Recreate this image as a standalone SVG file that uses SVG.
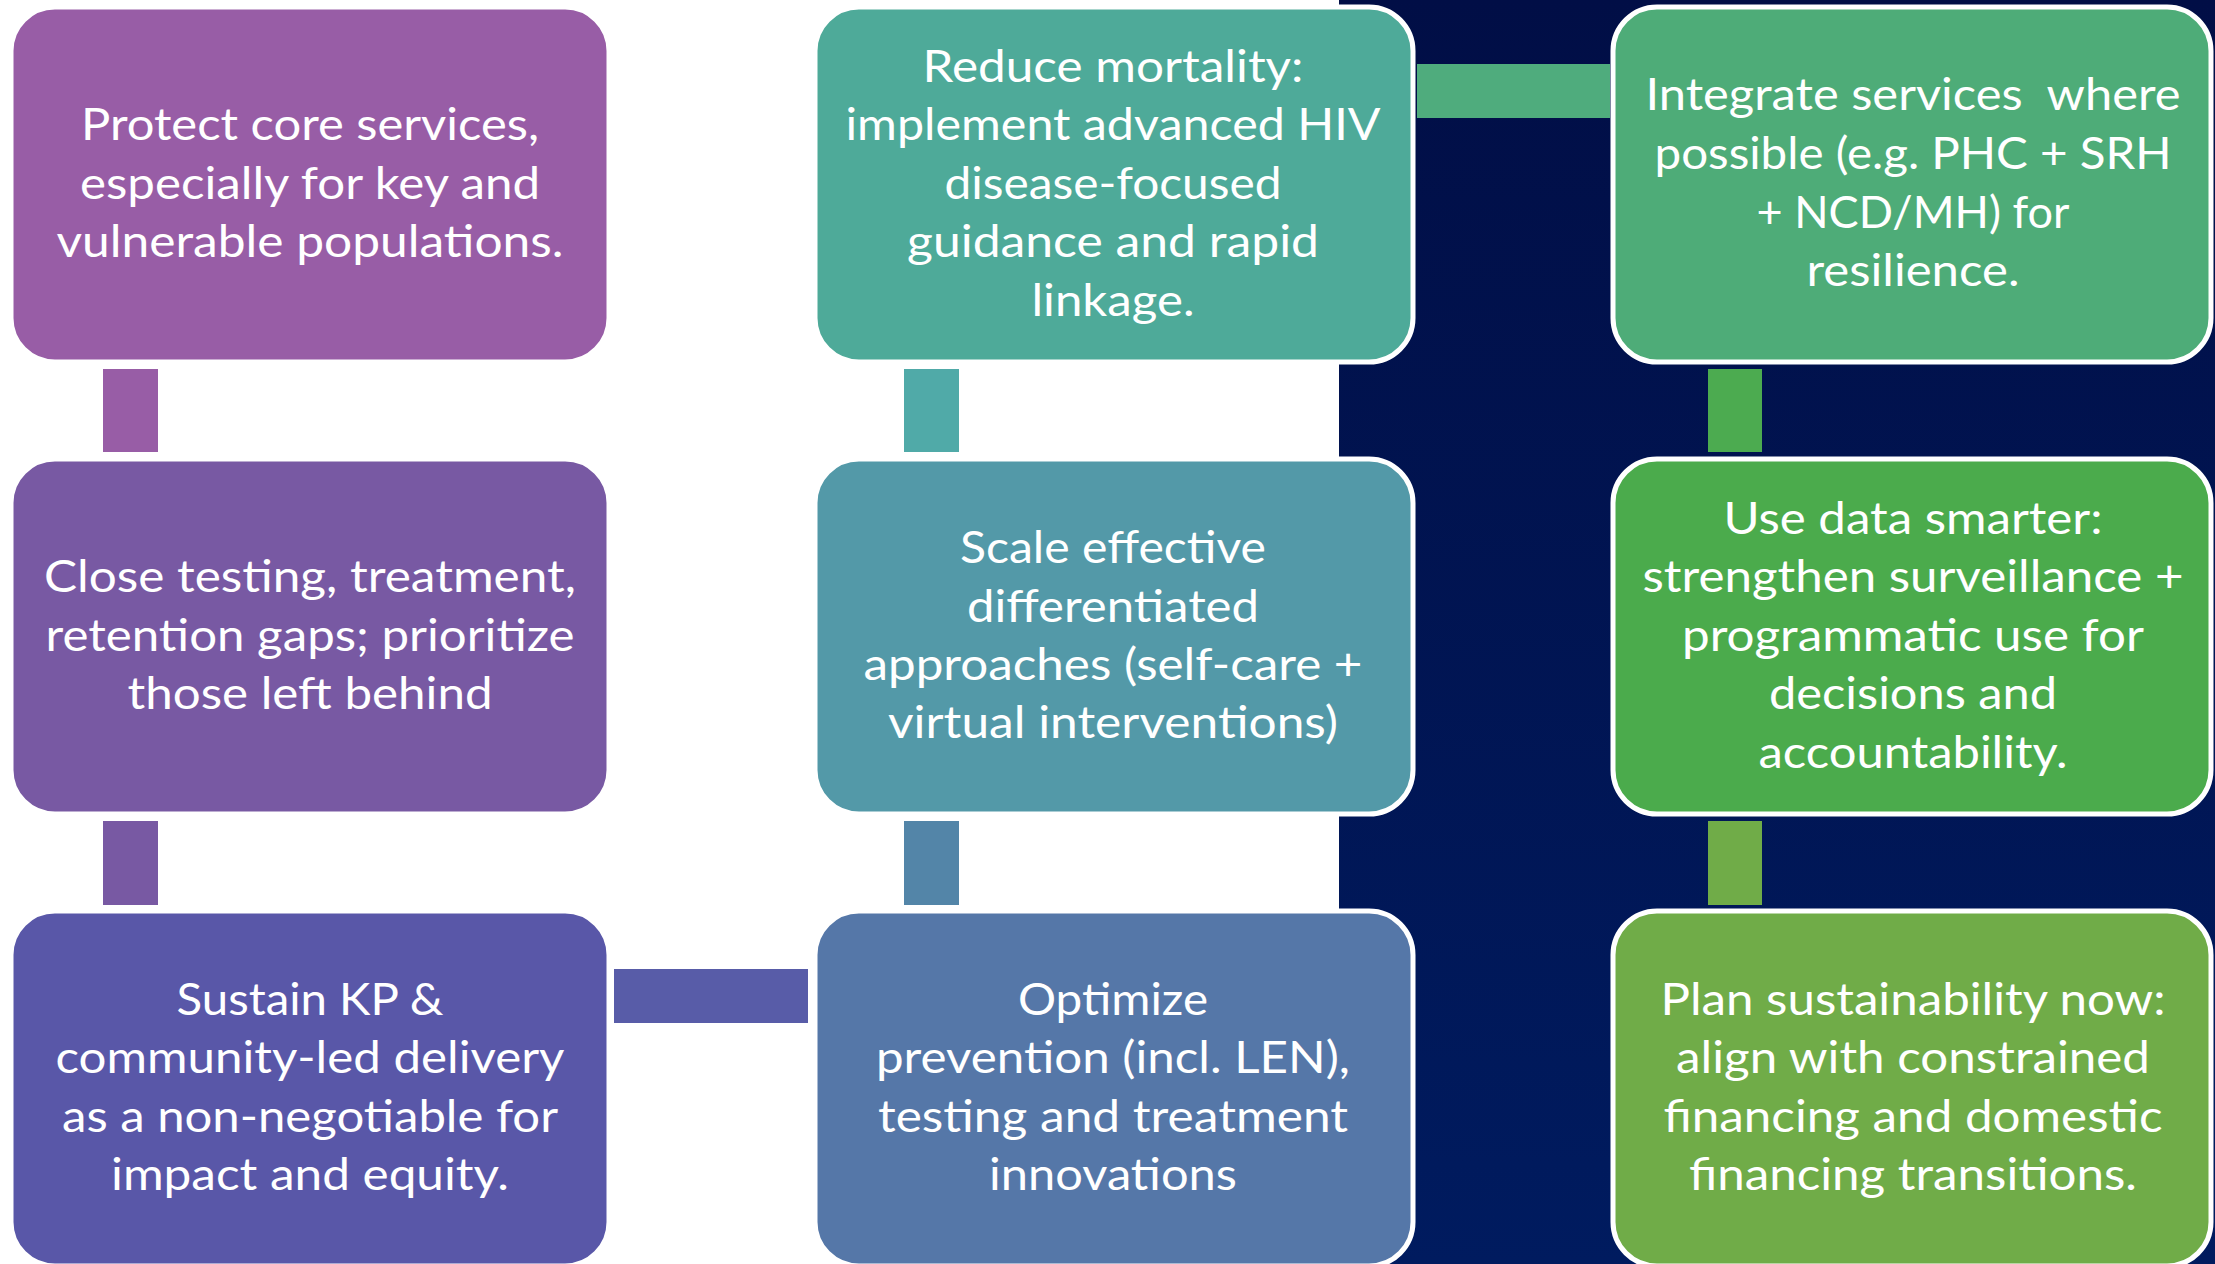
<svg xmlns="http://www.w3.org/2000/svg" width="2215" height="1264" viewBox="0 0 2215 1264">
<style>
.box{stroke:#ffffff;stroke-width:5}
.lbl{font-family:Lato,"Open Sans","Liberation Sans",sans-serif;font-size:44px;fill:#ffffff;text-anchor:middle}
</style>
<defs>
<linearGradient id="navy" x1="0" y1="0" x2="0" y2="1">
<stop offset="0" stop-color="#010E46"/>
<stop offset="1" stop-color="#001B5F"/>
</linearGradient>
</defs>
<rect x="0" y="0" width="2215" height="1264" fill="#ffffff"/>
<rect x="1339" y="0" width="876" height="1264" fill="url(#navy)"/>
<g id="connectors">
<rect x="103" y="369" width="55" height="83" fill="#985DA6"/>
<rect x="103" y="821" width="55" height="84" fill="#7859A3"/>
<rect x="614" y="969" width="194" height="54" fill="#585CA8"/>
<rect x="904" y="369" width="55" height="83" fill="#50AAA8"/>
<rect x="904" y="821" width="55" height="84" fill="#5385A8"/>
<rect x="1417" y="64" width="193" height="54" fill="#4FAC7D"/>
<rect x="1708" y="369" width="54" height="83" fill="#4CAB50"/>
<rect x="1708" y="821" width="54" height="84" fill="#70AC48"/>
</g>
<g id="n1"><rect class="box" x="11" y="7" width="598" height="355" rx="44" fill="#985DA6"/>
<text class="lbl"><tspan x="310" y="140" textLength="458" lengthAdjust="spacingAndGlyphs">Protect core services,</tspan><tspan x="310" y="199" textLength="460" lengthAdjust="spacingAndGlyphs">especially for key and</tspan><tspan x="310" y="257" textLength="507" lengthAdjust="spacingAndGlyphs">vulnerable populations.</tspan></text></g>
<g id="n2"><rect class="box" x="11" y="459" width="598" height="355" rx="44" fill="#7859A3"/>
<text class="lbl"><tspan x="310" y="592" textLength="532" lengthAdjust="spacingAndGlyphs">Close testing, treatment,</tspan><tspan x="310" y="651" textLength="529" lengthAdjust="spacingAndGlyphs">retention gaps; prioritize</tspan><tspan x="310" y="709" textLength="365" lengthAdjust="spacingAndGlyphs">those left behind</tspan></text></g>
<g id="n3"><rect class="box" x="11" y="911" width="598" height="355" rx="44" fill="#5957A8"/>
<text class="lbl"><tspan x="310" y="1015" textLength="267" lengthAdjust="spacingAndGlyphs">Sustain KP &amp;</tspan><tspan x="310" y="1073" textLength="509" lengthAdjust="spacingAndGlyphs">community-led delivery</tspan><tspan x="310" y="1132" textLength="496" lengthAdjust="spacingAndGlyphs">as a non-negotiable for</tspan><tspan x="310" y="1190" textLength="398" lengthAdjust="spacingAndGlyphs">impact and equity.</tspan></text></g>
<g id="n4"><rect class="box" x="815" y="7" width="598" height="355" rx="44" fill="#4EAA99"/>
<text class="lbl"><tspan x="1113" y="82" textLength="381" lengthAdjust="spacingAndGlyphs">Reduce mortality:</tspan><tspan x="1113" y="140" textLength="535" lengthAdjust="spacingAndGlyphs">implement advanced HIV</tspan><tspan x="1113" y="199" textLength="337" lengthAdjust="spacingAndGlyphs">disease-focused</tspan><tspan x="1113" y="257" textLength="412" lengthAdjust="spacingAndGlyphs">guidance and rapid</tspan><tspan x="1113" y="316" textLength="163" lengthAdjust="spacingAndGlyphs">linkage.</tspan></text></g>
<g id="n5"><rect class="box" x="815" y="459" width="598" height="355" rx="44" fill="#5399A8"/>
<text class="lbl"><tspan x="1113" y="563" textLength="306" lengthAdjust="spacingAndGlyphs">Scale effective</tspan><tspan x="1113" y="622" textLength="292" lengthAdjust="spacingAndGlyphs">differentiated</tspan><tspan x="1113" y="680" textLength="499" lengthAdjust="spacingAndGlyphs">approaches (self-care +</tspan><tspan x="1113" y="738" textLength="450" lengthAdjust="spacingAndGlyphs">virtual interventions)</tspan></text></g>
<g id="n6"><rect class="box" x="815" y="911" width="598" height="355" rx="44" fill="#5577A8"/>
<text class="lbl"><tspan x="1113" y="1015" textLength="190" lengthAdjust="spacingAndGlyphs">Optimize</tspan><tspan x="1113" y="1073" textLength="474" lengthAdjust="spacingAndGlyphs">prevention (incl. LEN),</tspan><tspan x="1113" y="1132" textLength="470" lengthAdjust="spacingAndGlyphs">testing and treatment</tspan><tspan x="1113" y="1190" textLength="248" lengthAdjust="spacingAndGlyphs">innovations</tspan></text></g>
<g id="n7"><rect class="box" x="1613" y="7" width="598" height="355" rx="44" fill="#4EAC78"/>
<text class="lbl" xml:space="preserve"><tspan x="1913" y="110" textLength="535" lengthAdjust="spacingAndGlyphs">Integrate services  where</tspan><tspan x="1913" y="169" textLength="517" lengthAdjust="spacingAndGlyphs">possible (e.g. PHC + SRH</tspan><tspan x="1913" y="228" textLength="313" lengthAdjust="spacingAndGlyphs">+ NCD/MH) for</tspan><tspan x="1913" y="286" textLength="213" lengthAdjust="spacingAndGlyphs">resilience.</tspan></text></g>
<g id="n8"><rect class="box" x="1613" y="459" width="598" height="355" rx="44" fill="#4BAB4C"/>
<text class="lbl"><tspan x="1913" y="534" textLength="379" lengthAdjust="spacingAndGlyphs">Use data smarter:</tspan><tspan x="1913" y="592" textLength="541" lengthAdjust="spacingAndGlyphs">strengthen surveillance +</tspan><tspan x="1913" y="651" textLength="462" lengthAdjust="spacingAndGlyphs">programmatic use for</tspan><tspan x="1913" y="709" textLength="288" lengthAdjust="spacingAndGlyphs">decisions and</tspan><tspan x="1913" y="768" textLength="309" lengthAdjust="spacingAndGlyphs">accountability.</tspan></text></g>
<g id="n9"><rect class="box" x="1613" y="911" width="598" height="355" rx="44" fill="#70AC48"/>
<text class="lbl"><tspan x="1913" y="1015" textLength="505" lengthAdjust="spacingAndGlyphs">Plan sustainability now:</tspan><tspan x="1913" y="1073" textLength="474" lengthAdjust="spacingAndGlyphs">align with constrained</tspan><tspan x="1913" y="1132" textLength="499" lengthAdjust="spacingAndGlyphs">financing and domestic</tspan><tspan x="1913" y="1190" textLength="448" lengthAdjust="spacingAndGlyphs">financing transitions.</tspan></text></g>
</svg>
